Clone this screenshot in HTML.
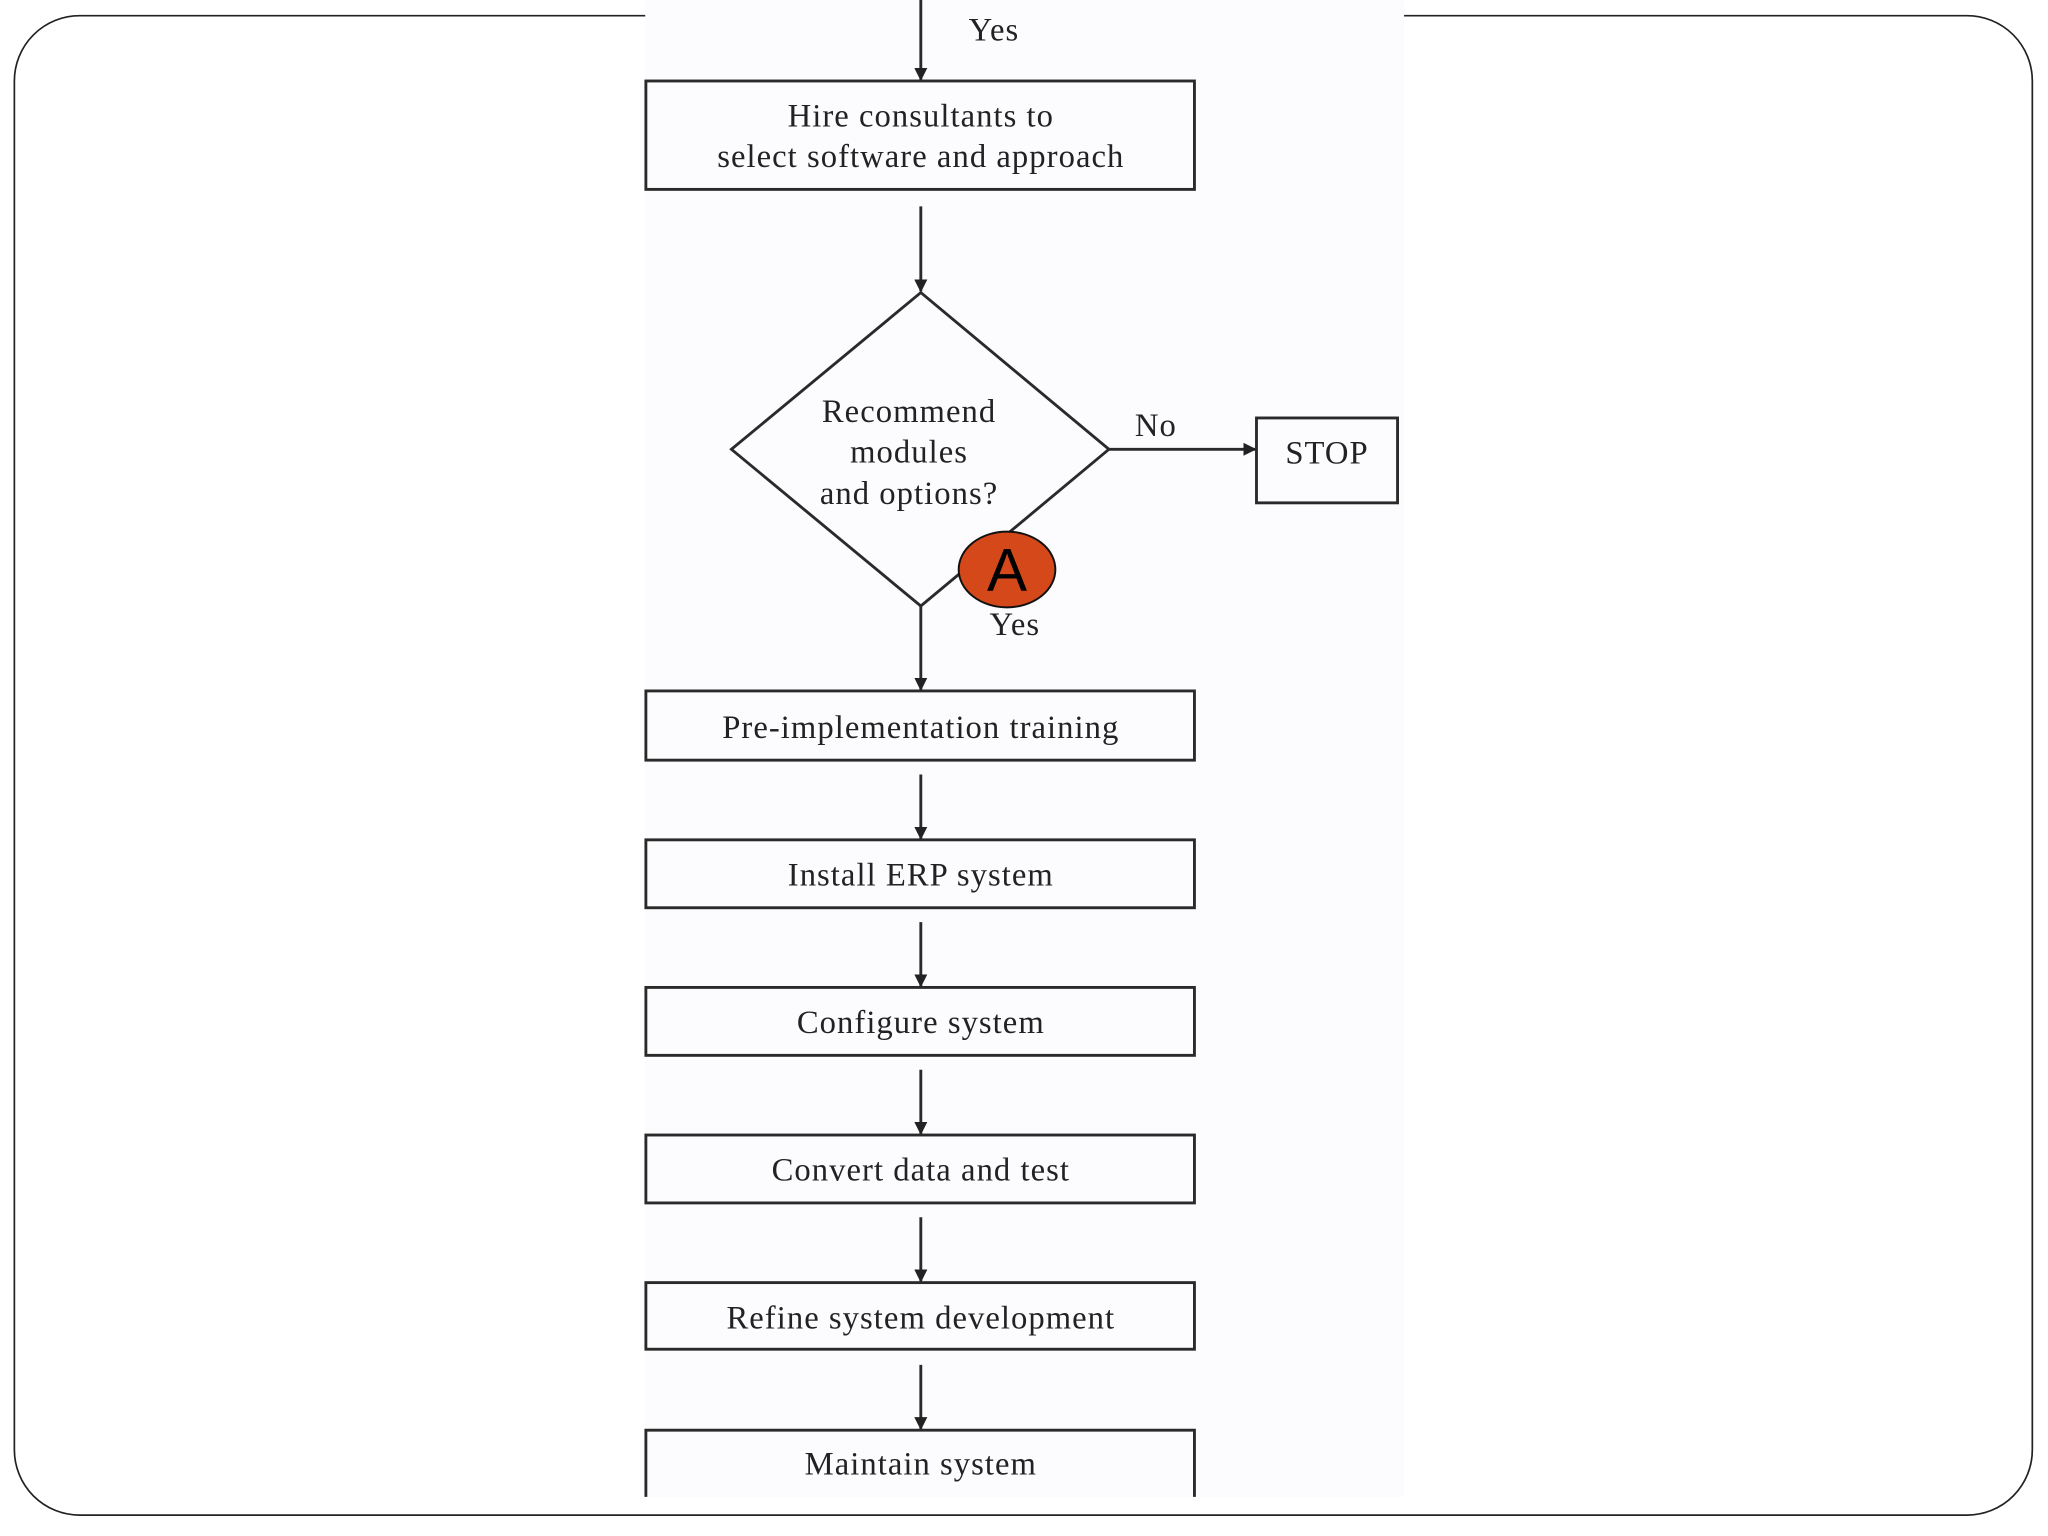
<!DOCTYPE html>
<html><head><meta charset="utf-8"><style>
html,body{margin:0;padding:0;background:#fff;}
svg{display:block;}
text{font-family:"Liberation Serif",serif;fill:#222;}
</style></head><body>
<svg width="2048" height="1536" viewBox="0 0 1568 1176" preserveAspectRatio="none" xmlns="http://www.w3.org/2000/svg">
<defs><marker id="ah" markerWidth="10" markerHeight="10" refX="9" refY="5" orient="auto" markerUnits="userSpaceOnUse"><path d="M0,0 L10,5 L0,10 z" fill="#222"/></marker></defs>
<rect x="11" y="12" width="1545" height="1148" rx="50" fill="#fff" stroke="#222" stroke-width="1.3"/>
<rect x="494" y="0" width="581" height="1146" fill="#fcfbfd"/>
<g stroke="#2a2a2a" stroke-width="2.2" fill="none">
<line x1="705" y1="0" x2="705" y2="61" marker-end="url(#ah)"/>
<rect x="494.5" y="62" width="420" height="83"/>
<line x1="705" y1="158" x2="705" y2="223" marker-end="url(#ah)"/>
<polygon points="705,224 849,344 705,464 560,344"/>
<line x1="849" y1="344" x2="961" y2="344" marker-end="url(#ah)"/>
<rect x="962" y="320" width="108" height="65"/>
<line x1="705" y1="464" x2="705" y2="528" marker-end="url(#ah)"/>
<rect x="494.5" y="529" width="420" height="53"/>
<line x1="705" y1="593" x2="705" y2="642" marker-end="url(#ah)"/>
<rect x="494.5" y="643" width="420" height="52"/>
<line x1="705" y1="706" x2="705" y2="755" marker-end="url(#ah)"/>
<rect x="494.5" y="756" width="420" height="52"/>
<line x1="705" y1="819" x2="705" y2="868" marker-end="url(#ah)"/>
<rect x="494.5" y="869" width="420" height="52"/>
<line x1="705" y1="932" x2="705" y2="981" marker-end="url(#ah)"/>
<rect x="494.5" y="982" width="420" height="51"/>
<line x1="705" y1="1045" x2="705" y2="1094" marker-end="url(#ah)"/>
<path d="M494.5,1146 V1095 H914.5 V1146"/>
</g>
<g font-size="25" text-anchor="middle" letter-spacing="0.8">
<text x="761" y="31">Yes</text>
<text x="705" y="97">Hire consultants to</text>
<text x="705" y="128">select software and approach</text>
<text x="696" y="323">Recommend</text>
<text x="696" y="354">modules</text>
<text x="696" y="386">and options?</text>
<text x="885" y="334">No</text>
<text x="1016" y="355">STOP</text>
<text x="777" y="486">Yes</text>
<text x="705" y="565">Pre-implementation training</text>
<text x="705" y="678">Install ERP system</text>
<text x="705" y="791">Configure system</text>
<text x="705" y="904">Convert data and test</text>
<text x="705" y="1017">Refine system development</text>
<text x="705" y="1129">Maintain system</text>
</g>
<ellipse cx="771" cy="436" rx="37" ry="29" fill="#d4481a" stroke="#111" stroke-width="1.5"/>
<text x="771" y="452" font-size="46" text-anchor="middle" style="font-family:'Liberation Sans',sans-serif;fill:#000">A</text>
</svg>
</body></html>
